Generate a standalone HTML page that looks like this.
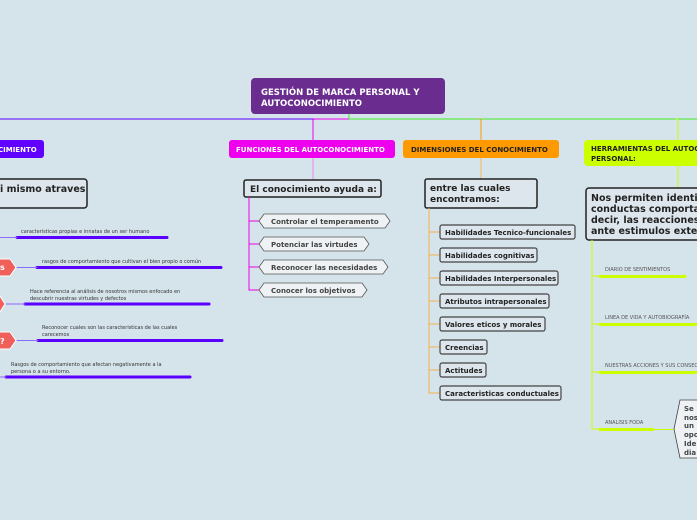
<!DOCTYPE html>
<html><head><meta charset="utf-8"><style>
html,body{margin:0;padding:0;background:#d5e3eb;}
svg{display:block;}
text{font-family:"DejaVu Sans","Liberation Sans",sans-serif;}
.b{font-weight:bold;}
</style></head><body>
<svg width="697" height="520" viewBox="0 0 697 520" xmlns="http://www.w3.org/2000/svg">
<rect width="697" height="520" fill="#d5e3eb"/>
<line x1="0" y1="119" x2="313" y2="119" stroke="#5a00ff" stroke-width="1"/>
<line x1="313" y1="119" x2="349" y2="119" stroke="#ee00ee" stroke-width="1"/>
<line x1="349" y1="119" x2="697" y2="119" stroke="#44ee22" stroke-width="1"/>
<line x1="349" y1="114" x2="349" y2="119" stroke="#44ee22"/>
<path d="M313 140 V121 q0 -2 2 -2" fill="none" stroke="#ee00ee"/>
<path d="M481 140 V121 q0 -2 -2 -2" fill="none" stroke="#ff9900"/>
<path d="M678 140 V121 q0 -2 -2 -2" fill="none" stroke="#ccff00"/>
<rect x="251" y="78" width="194" height="36" rx="4" fill="#6a2c8e"/>
<text x="261" y="95" fill="#fff" font-size="8.5" class="b">GESTIÓN DE MARCA PERSONAL Y</text>
<text x="261" y="106" fill="#fff" font-size="8.5" class="b">AUTOCONOCIMIENTO</text>

<rect x="-10" y="140" width="54" height="18" rx="3" fill="#6000ff"/>
<text x="-2" y="152" fill="#fff" font-size="7" class="b">CIMIENTO</text>
<rect x="-20" y="179" width="107" height="29" rx="3" fill="#dde6ec" stroke="#222" stroke-width="1.5"/>
<text x="0" y="192" fill="#222" font-size="9.5" class="b">i mismo atraves</text>
<g font-size="5" fill="#333">
<text x="21" y="233">caracteristicas propias e innatas de un ser humano</text>
<text x="42" y="263">rasgos de comportamiento que cultivan el bien propio o común</text>
<text x="30" y="293">Hace referencia al análisis de nosotros mismos enfocado en</text>
<text x="30" y="300">descubrir nuestras virtudes y defectos</text>
<text x="42" y="329">Reconocer cuales son las caracteristicas de las cuales</text>
<text x="42" y="336">carecemos</text>
<text x="11" y="366">Rasgos de comportamiento que afectan negativamente a la</text>
<text x="11" y="373">persona o a su entorno.</text>
</g>
<g stroke="#5a00ff" stroke-linecap="round">
<line x1="17" y1="237.5" x2="167" y2="237.5" stroke-width="3"/>
<line x1="0" y1="237.5" x2="17" y2="237.5" stroke-width="1" stroke="#8a6aff"/>
<line x1="37" y1="267.5" x2="221" y2="267.5" stroke-width="3"/>
<line x1="17" y1="267.5" x2="37" y2="267.5" stroke-width="1" stroke="#8a6aff"/>
<line x1="25" y1="304" x2="209" y2="304" stroke-width="3"/>
<line x1="6" y1="304" x2="25" y2="304" stroke-width="1" stroke="#8a6aff"/>
<line x1="38" y1="340.5" x2="222" y2="340.5" stroke-width="3"/>
<line x1="17" y1="340.5" x2="38" y2="340.5" stroke-width="1" stroke="#8a6aff"/>
<line x1="6" y1="377" x2="190" y2="377" stroke-width="3"/>
<line x1="0" y1="377" x2="6" y2="377" stroke-width="1" stroke="#8a6aff"/>
</g>
<g fill="#f0605a" stroke="#fff" stroke-width="1">
<path d="M-5 259 H10 L16 267.5 L10 276 H-5 Z"/>
<path d="M-5 296 H0 L5 304 L0 312 H-5 Z"/>
<path d="M-5 332 H10 L16 340.5 L10 349 H-5 Z"/>
</g>
<text x="0" y="270" fill="#fff" font-size="8" class="b">s</text>
<text x="0" y="344" fill="#fff" font-size="8" class="b">?</text>

<rect x="229" y="140" width="166" height="18" rx="3" fill="#ee00ee"/>
<text x="236" y="152" fill="#fff" font-size="7" class="b">FUNCIONES DEL AUTOCONOCIMIENTO</text>
<line x1="313" y1="158" x2="313" y2="180" stroke="#ee88ee"/>
<rect x="244" y="180" width="137" height="17" rx="2" fill="#dde6ec" stroke="#222" stroke-width="1.5"/>
<text x="250" y="192" fill="#222" font-size="9" class="b">El conocimiento ayuda a:</text>
<path d="M249 197 V290 H259 M249 221 H259 M249 244 H259 M249 267 H259" fill="none" stroke="#ee00ee"/>
<g fill="#eef2f4" stroke="#555" stroke-width="0.8">
<path d="M259 221 L264 214 H385 L390 221 L385 228 H264 Z"/>
<path d="M259 244 L264 237 H364 L369 244 L364 251 H264 Z"/>
<path d="M259 267 L264 260 H383 L388 267 L383 274 H264 Z"/>
<path d="M259 290 L264 283 H362 L367 290 L362 297 H264 Z"/>
</g>
<g font-size="7" fill="#444" class="b">
<text x="271" y="224">Controlar el temperamento</text>
<text x="271" y="247">Potenciar las virtudes</text>
<text x="271" y="270">Reconocer las necesidades</text>
<text x="271" y="293">Conocer los objetivos</text>
</g>

<rect x="403" y="140" width="156" height="18" rx="3" fill="#ff9900"/>
<text x="411" y="152" fill="#222" font-size="7" class="b">DIMENSIONES DEL CONOCIMIENTO</text>
<line x1="481" y1="158" x2="481" y2="179" stroke="#f5b860"/>
<rect x="425" y="179" width="112" height="29" rx="2" fill="#dde6ec" stroke="#222" stroke-width="1.5"/>
<text x="430" y="191" fill="#222" font-size="9" class="b">entre las cuales</text>
<text x="430" y="202" fill="#222" font-size="9" class="b">encontramos:</text>
<path d="M429 208 V393 H440 M429 232 H440 M429 255 H440 M429 278 H440 M429 301 H440 M429 324 H440 M429 347 H440 M429 370 H440" fill="none" stroke="#f5b050"/>
<g fill="#dde6ec" stroke="#444" stroke-width="1.2">
<rect x="440" y="225" width="135" height="14" rx="2"/>
<rect x="440" y="248" width="97" height="14" rx="2"/>
<rect x="440" y="271" width="118" height="14" rx="2"/>
<rect x="440" y="294" width="109" height="14" rx="2"/>
<rect x="440" y="317" width="105" height="14" rx="2"/>
<rect x="440" y="340" width="47" height="14" rx="2"/>
<rect x="440" y="363" width="46" height="14" rx="2"/>
<rect x="440" y="386" width="121" height="14" rx="2"/>
</g>
<g font-size="7" fill="#222" class="b">
<text x="445" y="235">Habilidades Tecnico-funcionales</text>
<text x="445" y="258">Habilidades cognitivas</text>
<text x="445" y="281">Habilidades Interpersonales</text>
<text x="445" y="304">Atributos intrapersonales</text>
<text x="445" y="327">Valores eticos y morales</text>
<text x="445" y="350">Creencias</text>
<text x="445" y="373">Actitudes</text>
<text x="445" y="396">Caracteristicas conductuales</text>
</g>

<rect x="584" y="140" width="130" height="26" rx="4" fill="#ccff00"/>
<text x="591" y="151" fill="#222" font-size="7" class="b">HERRAMIENTAS DEL AUTOCONOCIMIENTO</text>
<text x="591" y="161" fill="#222" font-size="7" class="b">PERSONAL:</text>
<line x1="678" y1="166" x2="678" y2="188" stroke="#ccff00"/>
<rect x="586" y="188" width="130" height="52" rx="3" fill="#dde6ec" stroke="#222" stroke-width="1.5"/>
<g font-size="9.5" fill="#222" class="b">
<text x="591" y="201">Nos permiten identificar</text>
<text x="591" y="212">conductas comportamentales</text>
<text x="591" y="223">decir, las reacciones</text>
<text x="591" y="234">ante estimulos externos</text>
</g>
<path d="M592 240 V429 H599 M592 276 H599 M592 324 H599 M592 372 H599" fill="none" stroke="#ccff00"/>
<g font-size="5" fill="#555">
<text x="605" y="271">DIARIO DE SENTIMIENTOS</text>
<text x="605" y="319">LINEA DE VIDA Y AUTOBIOGRAFÍA</text>
<text x="605" y="367">NUESTRAS ACCIONES Y SUS CONSECUENCIAS</text>
<text x="605" y="424">ANALISIS FODA</text>
</g>
<g stroke="#ccff00" stroke-width="3" stroke-linecap="round">
<line x1="600" y1="276.5" x2="685" y2="276.5"/>
<line x1="600" y1="324.5" x2="697" y2="324.5"/>
<line x1="600" y1="372.5" x2="697" y2="372.5"/>
<line x1="600" y1="429.5" x2="653" y2="429.5"/>
</g>
<line x1="653" y1="429.5" x2="674" y2="429.5" stroke="#ccff00"/>
<path d="M674 429 L680 400 H710 V458 H680 Z" fill="#eef2f4" stroke="#444" stroke-width="0.8"/>
<g font-size="7" fill="#444" class="b">
<text x="684" y="411">Se</text>
<text x="684" y="420">nos</text>
<text x="684" y="428">un</text>
<text x="684" y="437">opo</text>
<text x="684" y="446">Ide</text>
<text x="684" y="455">dia</text>
</g>
</svg>
</body></html>
